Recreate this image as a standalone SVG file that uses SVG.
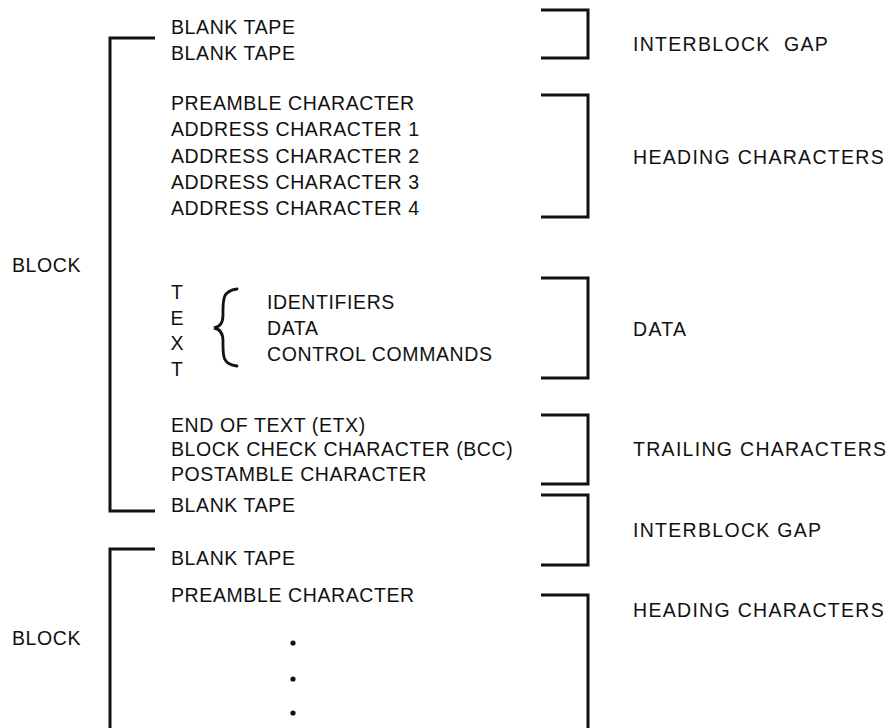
<svg xmlns="http://www.w3.org/2000/svg" width="896" height="728" viewBox="0 0 896 728">
<style>
text{font-family:"Liberation Sans",Arial,sans-serif;font-size:19.5px;fill:#111;letter-spacing:0.6px;white-space:pre}
.lab{letter-spacing:1.3px}
.br{fill:none;stroke:#111;stroke-width:3;stroke-linejoin:miter}
.brace{fill:none;stroke:#111;stroke-width:2.8;stroke-linecap:round}
.mid{text-anchor:middle;letter-spacing:0}
.dot{fill:#111}
</style>
<rect width="896" height="728" fill="#fff"/>
<g id="connectors">
<path class="br" d="M155,38 H110 V511 H155"/>
<path class="br" d="M155,549 H110 V728"/>
<path class="br" d="M541,10 H588 V58 H541"/>
<path class="br" d="M541,95 H588 V217 H541"/>
<path class="br" d="M541,278 H588 V378 H541"/>
<path class="br" d="M541,415 H588 V484 H541"/>
<path class="br" d="M541,495 H588 V565 H541"/>
<path class="br" d="M541,595 H588 V728"/>
<path class="brace" d="M237,289 C222,291 223,300 223,315 C223,323 220,327 214,328 C220,329 223,333 223,341 C223,356 222,364 237,366"/>
</g>
<g id="block1-label"><text x="12" y="272">BLOCK</text></g>
<g id="block2-label"><text x="12" y="645">BLOCK</text></g>
<g id="blank-tape-1"><text x="171" y="34">BLANK TAPE</text></g>
<g id="blank-tape-2"><text x="171" y="60">BLANK TAPE</text></g>
<g id="heading-1">
<text x="171" y="110">PREAMBLE CHARACTER</text>
<text x="171" y="136">ADDRESS CHARACTER 1</text>
<text x="171" y="163">ADDRESS CHARACTER 2</text>
<text x="171" y="189">ADDRESS CHARACTER 3</text>
<text x="171" y="215">ADDRESS CHARACTER 4</text>
</g>
<g id="text-vertical">
<text class="mid" x="177" y="299">T</text>
<text class="mid" x="177" y="325">E</text>
<text class="mid" x="177" y="350">X</text>
<text class="mid" x="177" y="376">T</text>
</g>
<g id="text-items">
<text x="267" y="309">IDENTIFIERS</text>
<text x="267" y="335">DATA</text>
<text x="267" y="361">CONTROL COMMANDS</text>
</g>
<g id="trailing-1">
<text x="171" y="432">END OF TEXT (ETX)</text>
<text x="171" y="456">BLOCK CHECK CHARACTER (BCC)</text>
<text x="171" y="481">POSTAMBLE CHARACTER</text>
</g>
<g id="blank-tape-3"><text x="171" y="512">BLANK TAPE</text></g>
<g id="blank-tape-4"><text x="171" y="565">BLANK TAPE</text></g>
<g id="heading-2"><text x="171" y="602">PREAMBLE CHARACTER</text>
<circle class="dot" cx="293" cy="643" r="2.6"/>
<circle class="dot" cx="293" cy="679" r="2.6"/>
<circle class="dot" cx="293" cy="713" r="2.6"/>
</g>
<g id="label-gap-1"><text class="lab" x="633" y="51">INTERBLOCK  GAP</text></g>
<g id="label-heading-1"><text class="lab" x="633" y="164">HEADING CHARACTERS</text></g>
<g id="label-data"><text class="lab" x="633" y="336">DATA</text></g>
<g id="label-trailing"><text class="lab" x="633" y="456">TRAILING CHARACTERS</text></g>
<g id="label-gap-2"><text class="lab" x="633" y="537">INTERBLOCK GAP</text></g>
<g id="label-heading-2"><text class="lab" x="633" y="617">HEADING CHARACTERS</text></g>
</svg>
